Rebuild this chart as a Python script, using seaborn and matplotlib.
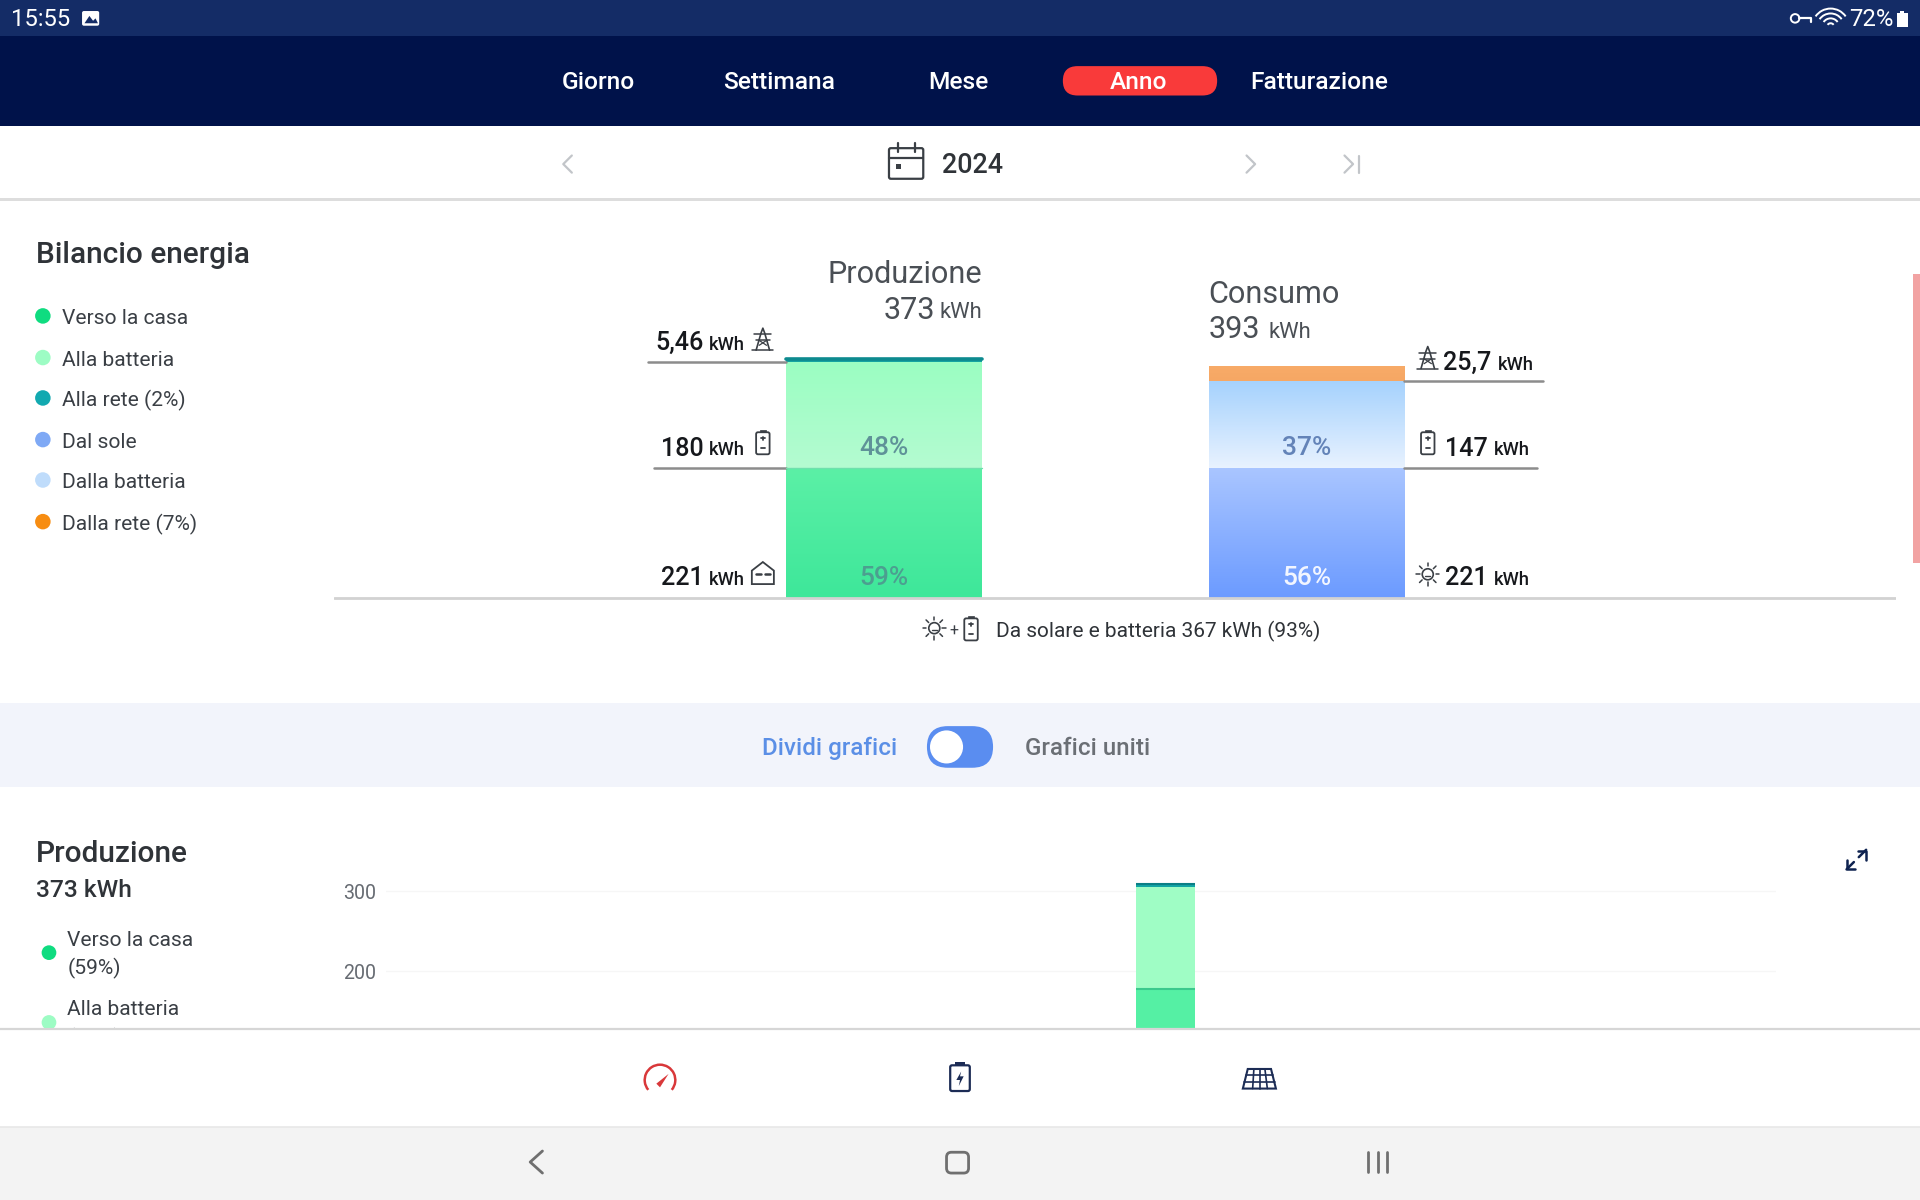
"""
Schermata app energia: bilancio annuale e grafico produzione.
Le coordinate dell'interfaccia sono in pixel su una griglia 1568x980.
"""

import numpy as np
import pandas as pd
import matplotlib
matplotlib.use("Agg")
import matplotlib.pyplot as plt
from matplotlib.colors import LinearSegmentedColormap
from matplotlib.patches import Circle, FancyBboxPatch, Polygon, Rectangle, Arc
import seaborn as sns

W, H = 1568, 980
PT = 1920 / W * 0.72  # pixel griglia -> punti

sns.set_theme(style="white")
plt.rcParams["font.family"] = ["Roboto", "DejaVu Sans"]

# ---- Dati ----
bilancio = pd.DataFrame([
    ("Produzione", "Verso la casa", 221, "#3ee79a", "#5bf0a6"),
    ("Produzione", "Alla batteria", 180, "#b4fbd1", "#9bfec2"),
    ("Produzione", "Alla rete", 5.46, "#17a7a4", "#0d8a8f"),
    ("Consumo", "Dal sole", 221, "#6c9bff", "#a9c5ff"),
    ("Consumo", "Dalla batteria", 147, "#e8f2ff", "#a6d2fd"),
    ("Consumo", "Dalla rete", 25.7, "#f6a764", "#f8ab68"),
], columns=["colonna", "voce", "kwh", "col_basso", "col_alto"])

mesi = ["gen", "feb", "mar", "apr", "mag", "giu", "lug", "ago", "set", "ott", "nov", "dic"]
produzione_mese = pd.DataFrame({
    "mese": mesi,
    "casa": [0, 0, 0, 0, 0, 0, 177, 0, 0, 0, 0, 0],
    "batteria": [0, 0, 0, 0, 0, 0, 128, 0, 0, 0, 0, 0],
    "rete": [0, 0, 0, 0, 0, 0, 4, 0, 0, 0, 0, 0],
})

legenda = pd.DataFrame({
    "voce": ["Verso la casa", "Alla batteria", "Alla rete (2%)", "Dal sole", "Dalla batteria", "Dalla rete (7%)"],
    "colore": ["#0fdc80", "#9dfcc4", "#12a9b0", "#7fa9f5", "#bfdcfb", "#f78d12"],
    "y": [258, 292, 325, 359, 392, 426],
})


def axes_px(fig, x0, y0, x1, y1, zorder=1):
    ax = fig.add_axes([x0 / W, 1 - y1 / H, (x1 - x0) / W, (y1 - y0) / H], zorder=zorder)
    ax.patch.set_alpha(0)
    return ax


def scrivi(ax, x, y, s, size, color="#2f3338", ha="left", va="center", weight="normal"):
    ax.text(x, y + 1.3, s, fontsize=size * PT, color=color, ha=ha, va=va, fontweight=weight)


def linea(ax, xs, ys, color="#3a3f45", lw=1.3):
    ax.plot(xs, ys, color=color, lw=lw, solid_capstyle="round")


def batteria(ax, x, y, w=11, h=18, color="#3a3f45"):
    ax.add_patch(FancyBboxPatch((x - w / 2, y - h / 2), w, h, boxstyle="round,pad=0,rounding_size=1.5",
                                fc="white", ec=color, lw=1.3))
    ax.add_patch(Rectangle((x - 2.5, y - h / 2 - 2), 5, 2, fc=color, ec=color, lw=0.5))
    linea(ax, [x - 1.5, x + 1.5], [y - 4, y - 4], color)
    linea(ax, [x, x], [y - 5.5, y - 2.5], color)
    linea(ax, [x - 1.5, x + 1.5], [y + 4, y + 4], color)


def sole(ax, x, y, color="#3a3f45"):
    ax.add_patch(Circle((x, y), 4.5, fc="none", ec=color, lw=1.2))
    for a in np.arange(0, 360, 45):
        c, s = np.cos(np.radians(a)), np.sin(np.radians(a))
        linea(ax, [x + 6.5 * c, x + 9.5 * c], [y + 6.5 * s, y + 9.5 * s], color, 1.1)
    linea(ax, [x - 2, x + 2], [y + 1.5, y + 1.5], color, 1.0)


def traliccio(ax, x, y, color="#3a3f45"):
    linea(ax, [x - 5.5, x - 1.5, x, x + 1.5, x + 5.5], [y + 9, y - 5, y - 9, y - 5, y + 9], color, 1.2)
    for dy, dw in [(-4, 7), (1, 6), (9, 8.5)]:
        linea(ax, [x - dw, x + dw], [y + dy, y + dy], color, 1.1)
    linea(ax, [x - 3, x + 3], [y + 1, y + 5], color, 0.9)
    linea(ax, [x + 3, x - 3], [y + 1, y + 5], color, 0.9)


def casa(ax, x, y, color="#3a3f45"):
    ax.add_patch(Polygon([(x - 9, y + 8), (x - 9, y - 3), (x, y - 10), (x + 9, y - 3), (x + 9, y + 8)],
                         closed=True, fc="white", ec=color, lw=1.3))
    linea(ax, [x - 5.5, x - 1.5], [y, y], color, 1.8)
    linea(ax, [x + 1.5, x + 5.5], [y, y], color, 1.8)


def valore(ax, x_num_r, x_unit_r, y, num):
    scrivi(ax, x_num_r, y, num, 20.5, "#16181c", ha="right", weight="medium")
    scrivi(ax, x_unit_r, y + 1.5, "kWh", 15, "#16181c", ha="right", weight="medium")


def barra_sfumata(ax, barra, c_basso, c_alto):
    """Riempie la barra disegnata da seaborn con una sfumatura verticale."""
    x0, y0 = barra.get_x(), barra.get_y()
    x1, y1 = x0 + barra.get_width(), y0 + barra.get_height()
    cmap = LinearSegmentedColormap.from_list("g", [c_basso, c_alto])
    im = ax.imshow(np.linspace(0, 1, 64).reshape(-1, 1), cmap=cmap, origin="lower", aspect="auto",
                   extent=(x0, x1, y0, y1), zorder=barra.get_zorder() + 0.1)
    im.set_clip_path(barra)


fig = plt.figure(figsize=(19.2, 12), dpi=100, facecolor="white")

# ---- Sfondo interfaccia ----
ui = axes_px(fig, 0, 0, W, H, zorder=0)
ui.set_xlim(0, W)
ui.set_ylim(H, 0)
ui.axis("off")

ui.add_patch(Rectangle((0, 0), W, 29, fc="#142c66", ec="none"))
ui.add_patch(Rectangle((0, 29), W, 74, fc="#00124a", ec="none"))
ui.add_patch(Rectangle((0, 162), W, 2, fc="#dddddd", ec="none"))
ui.add_patch(Rectangle((0, 574), W, 69, fc="#f2f4fb", ec="none"))
ui.add_patch(Rectangle((1562, 224), 6, 236, fc="#f2a3a3", ec="none"))

# barra di stato
scrivi(ui, 9, 15, "15:55", 19.5, "white")
ui.add_patch(FancyBboxPatch((67, 9), 14, 12, boxstyle="round,pad=0,rounding_size=1.5", fc="white", ec="none"))
ui.add_patch(Polygon([(69, 19), (73, 13), (76, 17), (78, 15), (80, 19)], fc="#142c66", ec="none"))
scrivi(ui, 1546, 15, "72%", 19.5, "white", ha="right")
ui.add_patch(Rectangle((1549, 11), 9, 11, fc="white", ec="none"))
ui.add_patch(Rectangle((1552, 9), 3, 2, fc="white", ec="none"))
ui.add_patch(Circle((1466, 15), 3.5, fc="none", ec="white", lw=1.4))
linea(ui, [1469, 1479, 1479], [15, 15, 18], "white", 1.6)
for r in [15, 11, 7, 3]:
    ui.add_patch(Arc((1495, 22), 2 * r, 2 * r, theta1=215, theta2=325, color="white", lw=1.4))

# schede periodo
for x, s in [(489, "Giorno"), (636, "Settimana"), (783, "Mese"), (1077, "Fatturazione")]:
    scrivi(ui, x, 66, s, 20, "white", ha="center", weight="medium")
ui.add_patch(FancyBboxPatch((868, 54), 126, 24, boxstyle="round,pad=0,rounding_size=12", fc="#f93a3a", ec="none"))
scrivi(ui, 930, 66, "Anno", 20, "white", ha="center", weight="medium")

# riga data
linea(ui, [467, 460, 467], [127, 134, 141], "#c2c5c9", 1.6)
linea(ui, [1018, 1025, 1018], [127, 134, 141], "#c2c5c9", 1.6)
linea(ui, [1098, 1105, 1098], [127, 134, 141], "#c2c5c9", 1.6)
linea(ui, [1110, 1110], [127, 141], "#c2c5c9", 1.6)
ui.add_patch(FancyBboxPatch((726, 121), 28, 25, boxstyle="round,pad=0,rounding_size=1.5", fc="white", ec="#3a3f45", lw=1.6))
linea(ui, [726, 754], [129, 129], "#3a3f45", 1.6)
linea(ui, [733, 733], [117, 124], "#3a3f45", 1.6)
linea(ui, [747, 747], [117, 124], "#3a3f45", 1.6)
ui.add_patch(Rectangle((732, 134), 4, 4, fc="#3a3f45", ec="none"))
scrivi(ui, 769, 134, "2024", 22, "#2f3338", weight="medium")

# bilancio: titoli e legenda
scrivi(ui, 29, 207, "Bilancio energia", 24.4, "#2f3338", weight="medium")
sns.scatterplot(data=legenda, x=[35] * 6, y="y", hue="voce", palette=dict(zip(legenda["voce"], legenda["colore"])),
                s=125, linewidth=0, legend=False, ax=ui, zorder=3)
for _, r in legenda.iterrows():
    scrivi(ui, 51, r["y"] + 1, r["voce"], 17.2, "#3a3f45")
ui.set_xlim(0, W)
ui.set_ylim(H, 0)
ui.set_xlabel("")
ui.set_ylabel("")

scrivi(ui, 802, 223, "Produzione", 25, "#4a4f55", ha="right")
scrivi(ui, 764, 252, "373", 25, "#4a4f55", ha="right")
scrivi(ui, 802, 254, "kWh", 18, "#4a4f55", ha="right")
scrivi(ui, 987, 239, "Consumo", 25, "#4a4f55")
scrivi(ui, 987, 268, "393", 25, "#4a4f55")
scrivi(ui, 1036, 270, "kWh", 18, "#4a4f55")

valore(ui, 575, 608, 279, "5,46")
valore(ui, 575, 608, 365, "180")
valore(ui, 575, 608, 471, "221")
traliccio(ui, 623, 277)
batteria(ui, 623, 362)
casa(ui, 623, 469)
valore(ui, 1218, 1253, 295, "25,7")
valore(ui, 1215, 1249, 365, "147")
valore(ui, 1215, 1249, 471, "221")
traliccio(ui, 1166, 292)
batteria(ui, 1166, 362)
sole(ui, 1166, 469)

sole(ui, 763, 513)
scrivi(ui, 779, 514, "+", 13, "#3a3f45", ha="center")
batteria(ui, 793, 514)
scrivi(ui, 813, 514, "Da solare e batteria 367 kWh (93%)", 17.1, "#2f3338")

# interruttore grafici
scrivi(ui, 622, 610, "Dividi grafici", 19.7, "#5b8fe6", weight="medium")
ui.add_patch(FancyBboxPatch((757, 593), 54, 34, boxstyle="round,pad=0,rounding_size=17", fc="#5a8df0", ec="none"))
ui.add_patch(Circle((773, 610), 13.5, fc="white", ec="none"))
scrivi(ui, 837, 610, "Grafici uniti", 19.7, "#6b6f75", weight="medium")

# produzione: titoli e legenda
scrivi(ui, 29, 696, "Produzione", 24.4, "#2f3338", weight="medium")
scrivi(ui, 29, 726, "373 kWh", 20, "#2f3338", weight="medium")
ui.add_patch(Circle((40, 778), 6, fc="#0fdc80", ec="none"))
scrivi(ui, 55, 767, "Verso la casa", 17.2, "#3a3f45")
scrivi(ui, 55, 790, "(59%)", 17.2, "#3a3f45")
ui.add_patch(Circle((40, 835), 6, fc="#9dfcc4", ec="none"))
scrivi(ui, 55, 823, "Alla batteria", 17.2, "#3a3f45")
scrivi(ui, 55, 847, "(41%)", 17.2, "#3a3f45")
linea(ui, [1518, 1524], [700, 694], "#0f2350", 1.8)
linea(ui, [1517, 1524, 1524], [695, 695, 702], "#0f2350", 1.8)
linea(ui, [1508, 1514], [710, 704], "#0f2350", 1.8)
linea(ui, [1508, 1508, 1515], [702, 710, 710], "#0f2350", 1.8)

# ---- Bilancio energia: barre impilate ----
SCALA = 0.48  # pixel per kWh
PASSO = 345
px2x = lambda px: (px - 722) / PASSO
ax_bal = axes_px(fig, 273, 200, 1548, 490, zorder=1)
xlim_bal = (px2x(273), px2x(1548))
ylim_bal = (-2 / SCALA, 288 / SCALA)
colonne = ["Produzione", "Consumo"]
for col, gruppo in bilancio.groupby("colonna", sort=False):
    base = 0
    for _, r in gruppo.iterrows():
        sns.barplot(x=[col], y=[r["kwh"]], order=colonne, color=r["col_alto"], width=160 / PASSO,
                    saturation=1, bottom=base, linewidth=0, ax=ax_bal)
        barra_sfumata(ax_bal, ax_bal.containers[-1][0], r["col_basso"], r["col_alto"])
        base += r["kwh"]
ax_bal.set_xlim(xlim_bal)
ax_bal.set_ylim(ylim_bal)
ax_bal.axis("off")

# linee guida sui totali cumulati
cum = bilancio.groupby("colonna", sort=False)["kwh"].cumsum().values
GRIGIO = "#8c8c8c"
ax_bal.plot([px2x(273), px2x(1548)], [0, 0], color="#d2d2d2", lw=2, zorder=5)
ax_bal.plot([px2x(534), px2x(642)], [cum[0]] * 2, color=GRIGIO, lw=1.8)
ax_bal.plot([px2x(529), px2x(642)], [cum[1]] * 2, color=GRIGIO, lw=1.8)
ax_bal.plot([px2x(1147), px2x(1255)], [cum[3]] * 2, color=GRIGIO, lw=1.8)
ax_bal.plot([px2x(1147), px2x(1260)], [cum[4]] * 2, color=GRIGIO, lw=1.8)
ax_bal.plot([-80 / PASSO, 80 / PASSO], [cum[2]] * 2, color="#0d8a8f", lw=2.6, zorder=6)
ax_bal.plot([-80 / PASSO, 80 / PASSO], [cum[0]] * 2, color="#6fe0ad", lw=1.0, zorder=6)

for x, y, s, c in [(0, 255, "48%", "#5f9298"), (0, 34, "59%", "#4c9f90"),
                   (1, 255, "37%", "#6383b8"), (1, 34, "56%", "#f2f6ff")]:
    ax_bal.text(x, y, s, fontsize=21.5 * PT, color=c, ha="center", va="center", fontweight="medium", zorder=7)

# ---- Produzione per mese (tagliato dalla barra inferiore) ----
SLOT = 1135 / 12
ax_prod = axes_px(fig, 315, 715, 1450, 840, zorder=1)
base = np.zeros(12)
for voce, c in [("casa", "#55f0a4"), ("batteria", "#9ffdc5"), ("rete", "#12a5a5")]:
    sns.barplot(data=produzione_mese, x="mese", y=voce, order=mesi, color=c, saturation=1, width=48 / SLOT,
                bottom=base, linewidth=0, ax=ax_prod, zorder=3)
    base = base + produzione_mese[voce].values
ax_prod.hlines(produzione_mese["casa"].max(), 6 - 24 / SLOT, 6 + 24 / SLOT, color="#3bc98d", lw=1.5, zorder=4)
ax_prod.hlines(base.max(), 6 - 24 / SLOT, 6 + 24 / SLOT, color="#0b7f86", lw=1.5, zorder=4)
ax_prod.set_xlim(6 - (952 - 315) / SLOT, 6 + (1450 - 952) / SLOT)
ax_prod.set_ylim((923 - 840) / 0.65, (923 - 715) / 0.65)
ax_prod.set_yticks([200, 300])
ax_prod.set_xticks([])
ax_prod.set_xlabel("")
ax_prod.set_ylabel("")
ax_prod.tick_params(axis="y", length=0, labelsize=16 * PT, labelcolor="#666b72", pad=7)
ax_prod.grid(axis="y", color="#f6f6f6", lw=1)
ax_prod.set_axisbelow(True)
sns.despine(ax=ax_prod, left=True, bottom=True)

# ---- Barra inferiore (copre il contenuto che scorre) ----
top = axes_px(fig, 0, 0, W, H, zorder=3)
top.set_xlim(0, W)
top.set_ylim(H, 0)
top.axis("off")
top.add_patch(Rectangle((0, 840), W, 80, fc="white", ec="none"))
top.add_patch(Rectangle((0, 920), W, 60, fc="#f3f3f3", ec="none"))
linea(top, [0, W], [840, 840], "#d6d6d6", 1.6)
linea(top, [0, W], [920, 920], "#e8e8e8", 1.2)

top.add_patch(Arc((539, 882), 25, 25, theta1=140, theta2=40, color="#d9383a", lw=1.8))
top.add_patch(Polygon([(536, 885), (539, 888), (546, 877)], fc="#d9383a", ec="none"))
top.add_patch(FancyBboxPatch((776, 870), 16, 21, boxstyle="round,pad=0,rounding_size=1.5", fc="white", ec="#1c2c55", lw=1.6))
top.add_patch(Rectangle((780, 867), 8, 3, fc="#1c2c55", ec="none"))
top.add_patch(Polygon([(785, 875), (781, 882), (784, 882), (783, 887), (787, 879), (784, 879)], fc="#1c2c55", ec="none"))
top.add_patch(Polygon([(1019, 873), (1038, 873), (1042, 889), (1015, 889)], fc="none", ec="#1c2c55", lw=1.5))
linea(top, [1017.5, 1039.5], [878, 878], "#1c2c55", 1.2)
linea(top, [1016, 1041], [883.5, 883.5], "#1c2c55", 1.2)
for xa, xb in [(1024, 1023), (1029, 1029), (1033, 1035)]:
    linea(top, [xa, xb], [873, 889], "#1c2c55", 1.2)

linea(top, [443, 433, 443], [940, 949, 958], "#6f6f6f", 2)
top.add_patch(FancyBboxPatch((773, 941), 18, 17, boxstyle="round,pad=0,rounding_size=4", fc="none", ec="#6f6f6f", lw=2))
for x in [1117, 1125, 1133]:
    linea(top, [x, x], [941, 957], "#6f6f6f", 2)

plt.savefig("out.png", dpi=100)
plt.close()
print("[OK] out.png")
